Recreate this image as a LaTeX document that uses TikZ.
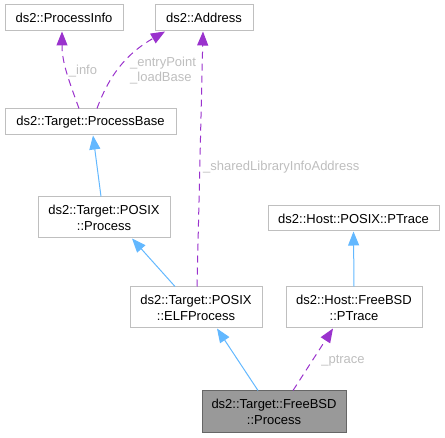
\documentclass[tikz,border=0pt]{standalone}
\usepackage{fontspec}
\setmainfont{Liberation Sans}
\usetikzlibrary{arrows.meta, positioning}
\definecolor{boxgray}{HTML}{BFBFBF}
\definecolor{maingray}{HTML}{999999}
\definecolor{mainline}{HTML}{666666}
\definecolor{inhblue}{HTML}{63B8FF}
\definecolor{usepurple}{HTML}{9A32CD}
\definecolor{labelgray}{HTML}{BEBEBE}

\begin{document}
\begin{tikzpicture}[x=1pt,y=1pt,
    cls/.style={draw=boxgray, line width=1pt, fill=white, inner sep=0pt,
                align=center, font=\fontsize{13}{16}\selectfont},
    inh/.style={draw=inhblue, line width=1pt,
                -{Triangle[length=14pt,width=11pt]}},
    uses/.style={draw=usepurple, line width=1pt, dash pattern=on 7pt off 5pt,
                 -{Triangle[length=14pt,width=11pt]}},
    lbl/.style={text=labelgray, inner sep=0pt, align=left,
                font=\fontsize{13}{15}\selectfont}]
      \useasboundingbox (0,0) rectangle (445,437);
      \node[cls, minimum width=118, minimum height=26] (proc_info) at (64,419) {ds2::ProcessInfo};
      \node[cls, minimum width=98, minimum height=26] (addr) at (204,419) {ds2::Address};
      \node[cls, minimum width=171, minimum height=26] (proc_base) at (90.5,315) {ds2::Target::ProcessBase};
      \node[cls, minimum width=132, minimum height=41] (posix_proc) at (104,219.5) {ds2::Target::POSIX\\::Process};
      \node[cls, minimum width=171, minimum height=25] (posix_ptrace) at (353.5,218.5) {ds2::Host::POSIX::PTrace};
      \node[cls, minimum width=132, minimum height=41] (elf_proc) at (196,129.5) {ds2::Target::POSIX\\::ELFProcess};
      \node[cls, minimum width=136, minimum height=41] (fbsd_ptrace) at (354,129.5) {ds2::Host::FreeBSD\\::PTrace};
      \node[cls, draw=mainline, fill=maingray, minimum width=144, minimum height=41] (fbsd_proc) at (274,25.5) {ds2::Target::FreeBSD\\::Process};
      % inheritance
      \draw[inh] ([xshift=-3]posix_proc.north) -- ([xshift=2.5]proc_base.south);
      \draw[inh] ([xshift=-21]elf_proc.north) -- ([xshift=28]posix_proc.south);
      \draw[inh] (fbsd_ptrace.north) -- (posix_ptrace.south);
      \draw[inh] ([xshift=-16]fbsd_proc.north) -- ([xshift=21]elf_proc.south);
      % members
      \draw[uses] ([xshift=-11.5]proc_base.north) to[out=110,in=-90] ([xshift=-2]proc_info.south);
      \draw[uses] ([xshift=6.5]proc_base.north) to[out=70,in=-150] ([xshift=-39]addr.south);
      \draw[uses] ([xshift=1]elf_proc.north) -- ([xshift=-1]addr.south);
      \draw[uses] ([xshift=19]fbsd_proc.north) -- ([xshift=-21]fbsd_ptrace.south);
      \node[lbl] (l_info) at (83,366) {\_info};
      \node[lbl, anchor=west] (l_entry) at (130,366) {\_entryPoint\\\_loadBase};
      \node[lbl, anchor=west] (l_shared) at (203,270) {\_sharedLibraryInfoAddress};
      \node[lbl] (l_ptrace) at (343,76) {\_ptrace};
\end{tikzpicture}
\end{document}
